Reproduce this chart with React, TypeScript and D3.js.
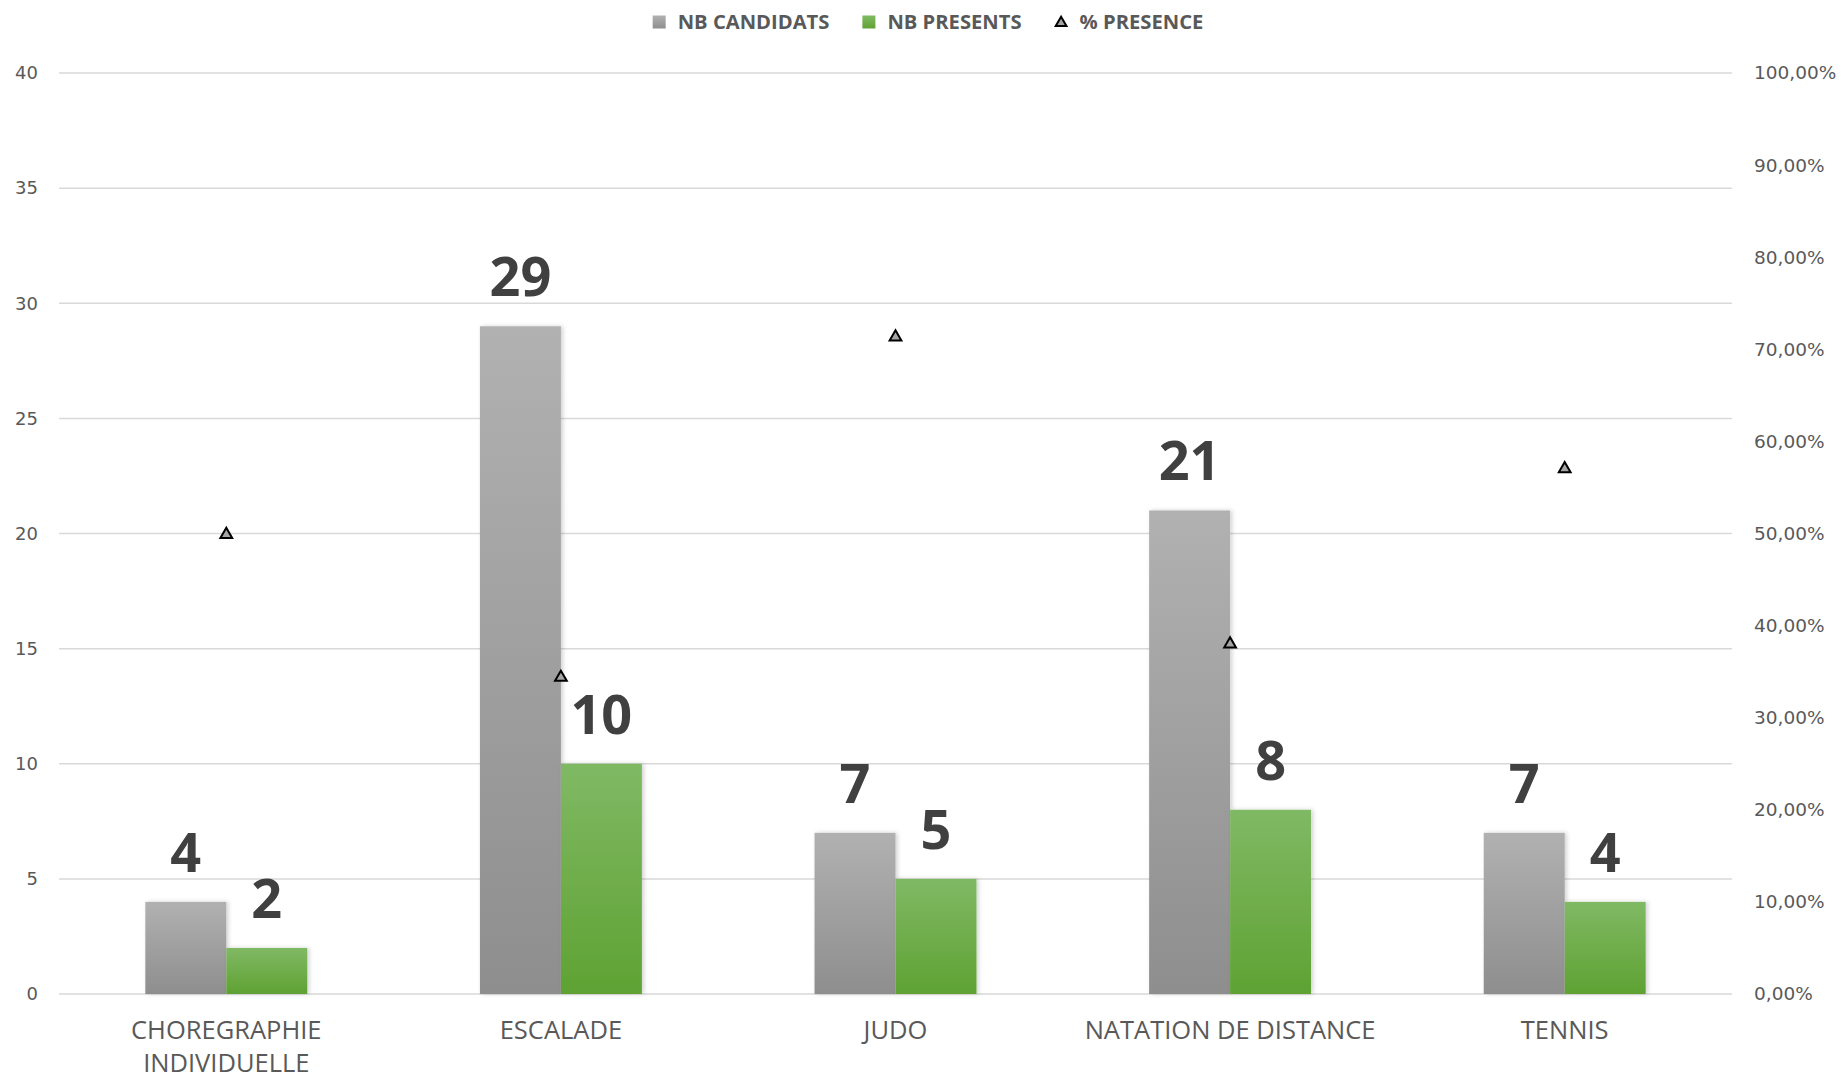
import React, { useRef, useEffect } from 'react';
import * as d3 from 'd3';

const categories = ['CHOREGRAPHIE INDIVIDUELLE', 'ESCALADE', 'JUDO', 'NATATION DE DISTANCE', 'TENNIS'];
const candidats = [4, 29, 7, 21, 7];
const presents = [2, 10, 5, 8, 4];
const presence = [0.5, 0.3448, 0.7143, 0.381, 0.5714];
const leftTicks = [0, 5, 10, 15, 20, 25, 30, 35, 40];
const rightTicks = [0, 0.1, 0.2, 0.3, 0.4, 0.5, 0.6, 0.7, 0.8, 0.9, 1];
const seriesNames = ['NB CANDIDATS', 'NB PRESENTS', '% PRESENCE'];

const WIDTH = 1841;
const HEIGHT = 1078;

const App: React.FC = () => {
  const svgRef = useRef<SVGSVGElement | null>(null);

  useEffect(() => {
    const svg = d3.select(svgRef.current);
    svg.selectAll('*').remove();

    const margin = { top: 73, right: 109, bottom: 84, left: 59 };
    const x0 = d3.scaleBand<string>()
      .domain(categories)
      .range([margin.left, WIDTH - margin.right])
      .paddingInner(0.516)
      .paddingOuter(0.258);
    const x1 = d3.scaleBand<string>()
      .domain(['c', 'p'])
      .range([0, x0.bandwidth()]);
    const y = d3.scaleLinear().domain([0, 40]).range([HEIGHT - margin.bottom, margin.top]);
    const y2 = d3.scaleLinear().domain([0, 1]).range([HEIGHT - margin.bottom, margin.top]);

    const defs = svg.append('defs');
    const grad = (id: string, top: string, bottom: string) => {
      const g = defs.append('linearGradient').attr('id', id)
        .attr('x1', 0).attr('y1', 0).attr('x2', 0).attr('y2', 1);
      g.append('stop').attr('offset', '0%').attr('stop-color', top);
      g.append('stop').attr('offset', '100%').attr('stop-color', bottom);
    };
    grad('gGray', '#b1b1b1', '#8e8e8e');
    grad('gGreen', '#80b964', '#5fa233');
    const shadow = defs.append('filter').attr('id', 'shadow')
      .attr('x', '-10%').attr('y', '-10%').attr('width', '130%').attr('height', '120%');
    shadow.append('feDropShadow')
      .attr('dx', 2).attr('dy', 0).attr('stdDeviation', 2)
      .attr('flood-color', '#000').attr('flood-opacity', 0.18);

    // gridlines
    svg.append('g')
      .selectAll('line')
      .data(leftTicks)
      .join('line')
      .attr('x1', margin.left)
      .attr('x2', WIDTH - margin.right)
      .attr('y1', d => y(d))
      .attr('y2', d => y(d))
      .attr('stroke', '#d9d9d9')
      .attr('stroke-width', 1.5);

    // left axis labels
    svg.append('g')
      .selectAll('text')
      .data(leftTicks)
      .join('text')
      .attr('x', 38)
      .attr('y', d => y(d))
      .attr('dy', '0.35em')
      .attr('text-anchor', 'end')
      .attr('font-family', 'DejaVu Sans')
      .attr('font-size', 18)
      .attr('fill', '#595959')
      .text(d => d);

    // right axis labels
    const pct = (v: number) => (v * 100).toFixed(2).replace('.', ',') + '%';
    svg.append('g')
      .selectAll('text')
      .data(rightTicks)
      .join('text')
      .attr('x', 1754)
      .attr('y', d => y2(d))
      .attr('dy', '0.35em')
      .attr('font-family', 'DejaVu Sans')
      .attr('font-size', 18.5)
      .attr('fill', '#595959')
      .text(d => pct(d));

    // bars
    const groups = svg.append('g')
      .selectAll('g')
      .data(categories)
      .join('g')
      .attr('transform', d => `translate(${x0(d)},0)`);

    groups.append('rect')
      .attr('x', x1('c')!)
      .attr('width', x1.bandwidth())
      .attr('y', (_, i) => y(candidats[i]))
      .attr('height', (_, i) => y(0) - y(candidats[i]))
      .attr('fill', 'url(#gGray)')
      .attr('filter', 'url(#shadow)');

    groups.append('rect')
      .attr('x', x1('p')!)
      .attr('width', x1.bandwidth())
      .attr('y', (_, i) => y(presents[i]))
      .attr('height', (_, i) => y(0) - y(presents[i]))
      .attr('fill', 'url(#gGreen)')
      .attr('filter', 'url(#shadow)');

    // data labels
    const labelStyle = (sel: d3.Selection<SVGTextElement, string, SVGGElement, unknown>) => sel
      .attr('text-anchor', 'middle')
      .attr('font-family', 'Open Sans')
      .attr('font-weight', 'bold')
      .attr('font-size', 54)
      .attr('fill', '#404040');

    groups.append('text')
      .attr('x', x1('c')! + x1.bandwidth() / 2)
      .attr('y', (_, i) => y(candidats[i]) - 30)
      .call(labelStyle)
      .text((_, i) => candidats[i]);

    groups.append('text')
      .attr('x', x1('p')! + x1.bandwidth() / 2)
      .attr('y', (_, i) => y(presents[i]) - 30)
      .call(labelStyle)
      .text((_, i) => presents[i]);

    // % presence markers
    const tri = d3.symbol().type(d3.symbolTriangle).size(60);
    svg.append('g')
      .selectAll('path')
      .data(categories)
      .join('path')
      .attr('d', tri)
      .attr('transform', (d, i) => `translate(${x0(d)! + x0.bandwidth() / 2},${y2(presence[i]) + 1})`)
      .attr('fill', '#a5a5a5')
      .attr('stroke', '#000')
      .attr('stroke-width', 2);

    // category labels
    const catText = svg.append('g')
      .selectAll('text')
      .data(categories)
      .join('text')
      .attr('x', d => x0(d)! + x0.bandwidth() / 2)
      .attr('y', 1039)
      .attr('text-anchor', 'middle')
      .attr('font-family', 'Open Sans')
      .attr('font-size', 25.5)
      .attr('fill', '#595959');
    catText.each(function (d) {
      const words = d === 'CHOREGRAPHIE INDIVIDUELLE' ? ['CHOREGRAPHIE', 'INDIVIDUELLE'] : [d];
      const t = d3.select(this);
      words.forEach((w, k) => {
        t.append('tspan')
          .attr('x', x0(d)! + x0.bandwidth() / 2)
          .attr('dy', k === 0 ? 0 : 33)
          .text(w);
      });
    });

    // legend
    const legend = svg.append('g');
    const swatches = ['#a5a5a5', '#70ad47', null];
    let cx = 0;
    seriesNames.forEach((name, i) => {
      const g = legend.append('g').attr('transform', `translate(${cx},0)`);
      if (swatches[i]) {
        g.append('rect').attr('x', 0).attr('y', -6.5).attr('width', 13).attr('height', 13)
          .attr('fill', i === 0 ? 'url(#gGray)' : 'url(#gGreen)');
      } else {
        g.append('path').attr('d', d3.symbol().type(d3.symbolTriangle).size(50)())
          .attr('transform', 'translate(6.5,1)')
          .attr('fill', '#a5a5a5').attr('stroke', '#000').attr('stroke-width', 2);
      }
      const txt = g.append('text')
        .attr('x', 25)
        .attr('dy', '0.35em')
        .attr('font-family', 'Open Sans')
        .attr('font-weight', 'bold')
        .attr('font-size', 20.2)
        .attr('fill', '#595959')
        .text(name);
      const w = (txt.node() as SVGTextElement).getComputedTextLength();
      cx += 25 + w + 33;
    });
    const total = cx - 33;
    legend.attr('transform', `translate(${928 - total / 2},22)`);
  }, []);

  return (
    <svg
      ref={svgRef}
      width={WIDTH}
      height={HEIGHT}
      style={{ position: 'absolute', left: 0, top: 0, background: '#fff' }}
    />
  );
};

export default App;
